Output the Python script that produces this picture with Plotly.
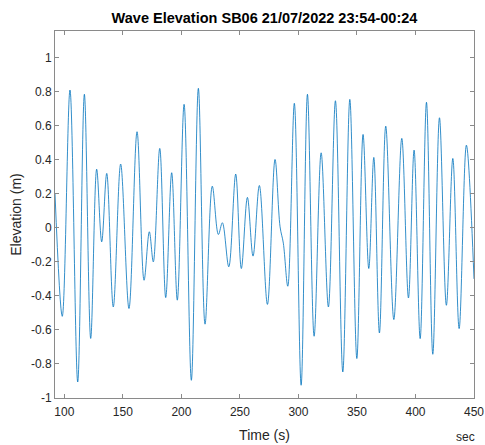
import plotly.graph_objects as go

# Wave extrema (time in s, elevation in m)
time_s = [92.0, 98.2, 104.8, 111.4, 117.1, 122.5, 127.6, 131.9, 136.2, 141.8,
          148.1, 155.2, 162.1, 168.1, 172.6, 176.0, 181.5, 186.6, 191.7, 196.5,
          202.3, 208.5, 214.5, 220.2, 226.4, 231.6, 235.0, 240.5, 246.4, 251.2,
          256.4, 261.2, 266.6, 273.5, 280.0, 284.3, 287.1, 290.9, 296.5, 302.3,
          307.7, 313.4, 319.4, 325.6, 331.6, 337.9, 343.9, 349.9, 355.2, 360.1,
          364.4, 369.2, 374.6, 381.5, 388.3, 394.0, 398.8, 404.0, 409.4, 414.8,
          420.5, 426.4, 431.9, 437.3, 443.5, 450.0]
elevation_m = [0.20, -0.52, 0.81, -0.906, 0.785, -0.65, 0.345, -0.082, 0.32, -0.465,
               0.375, -0.474, 0.565, -0.308, -0.023, -0.20, 0.467, -0.41, 0.324, -0.425,
               0.726, -0.896, 0.82, -0.566, 0.245, -0.039, 0.03, -0.229, 0.316, -0.239,
               0.179, -0.166, 0.249, -0.45, 0.402, 0.006, -0.09, -0.343, 0.732, -0.925,
               0.785, -0.637, 0.441, -0.465, 0.747, -0.847, 0.755, -0.768, 0.549, -0.239,
               0.414, -0.618, 0.598, -0.539, 0.526, -0.412, 0.457, -0.651, 0.738, -0.743,
               0.647, -0.455, 0.408, -0.592, 0.486, -0.30]

x_ticks = [100, 150, 200, 250, 300, 350, 400, 450]
y_ticks = [-1, -0.8, -0.6, -0.4, -0.2, 0, 0.2, 0.4, 0.6, 0.8, 1]
y_tick_labels = ["-1", "-0.8", "-0.6", "-0.4", "-0.2", "0", "0.2", "0.4", "0.6", "0.8", "1"]

FONT = "Liberation Sans, Arial, sans-serif"

fig = go.Figure()
fig.add_trace(go.Scatter(
    x=time_s, y=elevation_m, mode="lines",
    line=dict(color="#0072BD", width=0.8, shape="spline", smoothing=1.0),
    showlegend=False, hoverinfo="skip"))

axis_common = dict(
    showgrid=False, zeroline=False, showline=True, linecolor="#8a8a8a", linewidth=1,
    mirror="ticks", ticks="inside", ticklen=4, tickcolor="#8a8a8a", tickwidth=1,
    tickfont=dict(family=FONT, size=12, color="#262626"), automargin=False,
)

fig.update_layout(
    width=485, height=445,
    margin=dict(l=55, r=11, t=31, b=47),
    paper_bgcolor="white", plot_bgcolor="white",
    title=dict(text="<b>Wave Elevation SB06 21/07/2022 23:54-00:24</b>",
               x=264.5 / 485, xanchor="center", y=1 - 18 / 445, yanchor="middle",
               font=dict(family=FONT, size=14.5, color="#000000")),
    xaxis=dict(range=[92, 450], tickvals=x_ticks, ticktext=[str(v) for v in x_ticks],
               ticklabelstandoff=3,
               title=dict(text="Time (s)", standoff=11,
                          font=dict(family=FONT, size=14, color="#262626")),
               **axis_common),
    yaxis=dict(range=[-1, 1.157], tickvals=y_ticks, ticktext=y_tick_labels,
               title=dict(text="Elevation (m)", standoff=6,
                          font=dict(family=FONT, size=14, color="#262626")),
               **axis_common),
)

fig.add_annotation(text="sec", xref="paper", yref="paper", x=1.0, y=0, xanchor="right",
                   yanchor="top", yshift=-30, xshift=3, showarrow=False,
                   font=dict(family=FONT, size=12, color="#262626"))

fig.write_html("out.html")
